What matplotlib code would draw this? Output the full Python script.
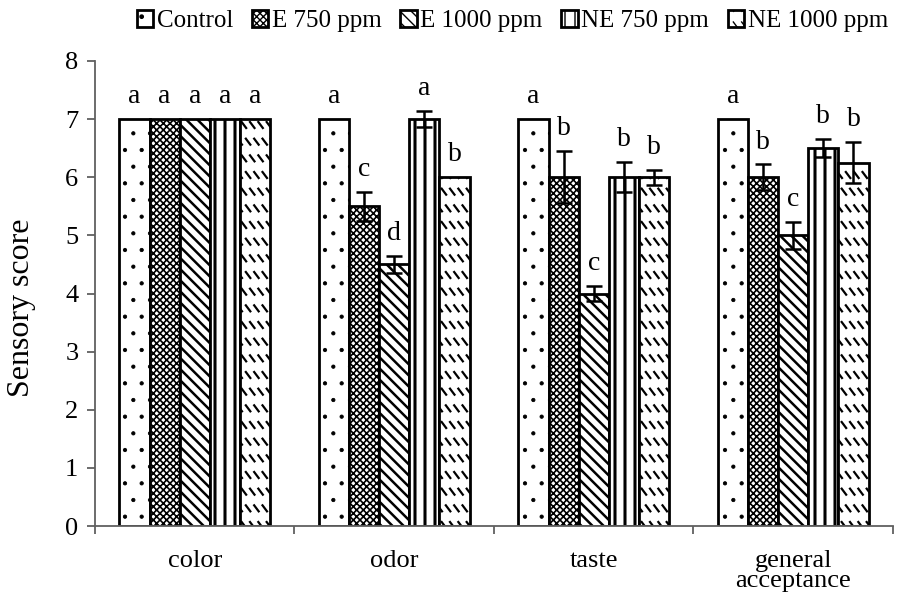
import matplotlib
matplotlib.use("Agg")
import warnings
warnings.filterwarnings("ignore")
import matplotlib.pyplot as plt
import matplotlib.hatch as mhatch
from matplotlib.path import Path
import numpy as np

plt.rcParams['font.family'] = ['Liberation Serif', 'DejaVu Serif']


class DashedDiagonal(mhatch.HatchPatternBase):
    """Short '\\' dashes on a staggered grid (dashed downward diagonal)."""
    def __init__(self, hatch, density):
        self.rows = hatch.count('~') * density
        self.cols = self.rows * 2
        self.num_vertices = self.rows * self.cols * 2

    def set_vertices_and_codes(self, vertices, codes):
        k = 0
        dx, dy = 0.045, 0.06
        for r in range(self.rows):
            y0 = (r + 0.5) / self.rows
            shift = 0.5 / self.cols if r % 2 else 0.0
            for c in range(self.cols):
                x0 = c / self.cols + shift
                vertices[k] = (x0, y0 + dy / 2)
                vertices[k + 1] = (x0 + dx, y0 - dy / 2)
                codes[k] = Path.MOVETO
                codes[k + 1] = Path.LINETO
                k += 2


class WideVertical(mhatch.HatchPatternBase):
    """Vertical lines, 10 per hatch unit."""
    def __init__(self, hatch, density):
        self.n = hatch.count('!') * 10
        self.num_vertices = self.n * 2

    def set_vertices_and_codes(self, vertices, codes):
        for i in range(self.n):
            xx = (i + 0.5) / self.n
            vertices[2 * i] = (xx, 0.0)
            vertices[2 * i + 1] = (xx, 1.0)
            codes[2 * i] = Path.MOVETO
            codes[2 * i + 1] = Path.LINETO


for cls in (DashedDiagonal, WideVertical):
    if cls not in mhatch._hatch_types:
        mhatch._hatch_types.append(cls)

categories = ["color", "odor", "taste", "general\nacceptance"]
series = ["Control", "E 750 ppm", "E 1000 ppm", "NE 750 ppm", "NE 1000 ppm"]
values = [
    [7, 7, 7, 7],
    [7, 5.5, 6, 6],
    [7, 4.5, 4, 5],
    [7, 7, 6, 6.5],
    [7, 6, 6, 6.25],
]
errors = [
    [0, 0, 0, 0],
    [0, 0.25, 0.45, 0.22],
    [0, 0.14, 0.13, 0.23],
    [0, 0.14, 0.26, 0.16],
    [0, 0, 0.13, 0.35],
]
letters = [
    ["a", "a", "a", "a"],
    ["a", "c", "b", "b"],
    ["a", "d", "c", "c"],
    ["a", "a", "b", "b"],
    ["a", "b", "b", "b"],
]
hatches = ['.', 'xxxxx', '\\\\\\', '!', '~']
hatch_lw = [0.6, 1.2, 1.8, 2.2, 1.6]

fig = plt.figure(figsize=(8.98, 6.02), dpi=100)
ax = fig.add_axes([0.1058, 0.1262, 0.8886, 0.7725])

n = len(series)
width = 0.151
x = np.arange(len(categories))
handles = []
for i in range(n):
    pos = x + (i - (n - 1) / 2) * width
    with plt.rc_context({'hatch.linewidth': hatch_lw[i]}):
        b = ax.bar(pos, values[i], width, color='white', edgecolor='black',
                   linewidth=2, hatch=hatches[i], label=series[i], zorder=2)
    for p in b.patches:
        if hasattr(p, 'set_hatch_linewidth'):
            p.set_hatch_linewidth(hatch_lw[i])
    handles.append(b)
    for j in range(len(categories)):
        if errors[i][j] > 0:
            ax.errorbar(pos[j], values[i][j], yerr=errors[i][j], fmt='none',
                        ecolor='black', elinewidth=1.8, capsize=6, capthick=1.8, zorder=3)
        ax.text(pos[j], values[i][j] + errors[i][j] + 0.17, letters[i][j],
                ha='center', va='bottom', fontsize=20)

axis_col = '#606060'
ax.set_xlim(-0.5, len(categories) - 0.5)
ax.set_ylim(0, 8)
ax.set_yticks(range(0, 9))
ax.set_xticks(x)
ax.set_xticklabels(categories, fontsize=19, linespacing=0.9)
ax.set_xticks(np.arange(-0.5, len(categories)), minor=True)
ax.tick_params(axis='x', which='major', length=0, pad=17)
ax.tick_params(axis='x', which='minor', length=6, width=1.3, direction='out', color=axis_col)
ax.tick_params(axis='y', labelsize=19, length=6, width=1.3, direction='out', color=axis_col, pad=6)
ax.spines['top'].set_visible(False)
ax.spines['right'].set_visible(False)
for s in ('left', 'bottom'):
    ax.spines[s].set_linewidth(1.3)
    ax.spines[s].set_color(axis_col)
ax.set_ylabel("Sensory score", fontsize=23)
ax.yaxis.set_label_coords(-0.074, 0.47)

fig.legend(handles=handles, labels=series, loc='upper right', bbox_to_anchor=(1.0, 1.0),
           ncol=5, frameon=False, fontsize=18, handlelength=0.65, handleheight=0.65,
           handletextpad=0.15, columnspacing=0.75, borderaxespad=0.2, borderpad=0.2)

fig.savefig("out.png", dpi=100)
